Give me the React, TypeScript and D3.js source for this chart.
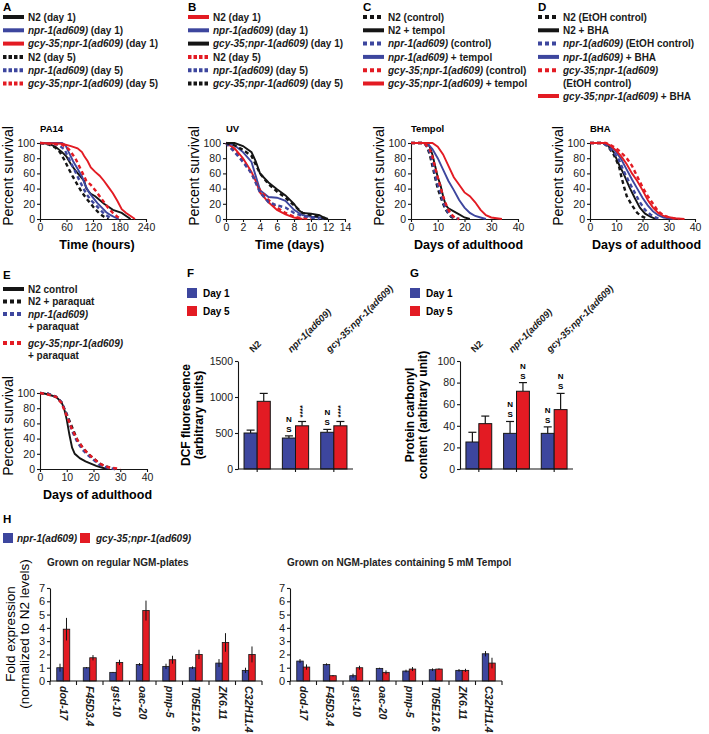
import React, { useRef, useEffect } from "react";
import * as d3 from "d3";

const W = 709;
const H = 734;
const FONT = "'Liberation Sans', Arial, Helvetica, sans-serif";
const BLACK = "#151515";
const BLUE = "#3d469e";
const RED = "#e31b23";

type Pt = [number, number];

// ---------- A: PA14 survival (hours, % alive) ----------
const pa14N2Day1: Pt[] = [[0, 100], [20, 99], [35, 95], [50, 88], [60, 82], [70, 72], [80, 64], [90, 57], [100, 50], [105, 40], [115, 33], [125, 30], [135, 25], [145, 20], [155, 16], [165, 12], [175, 10], [185, 8], [195, 4], [205, 0]];
const pa14Npr1Day1: Pt[] = [[0, 100], [50, 100], [58, 97], [65, 88], [75, 76], [85, 66], [95, 56], [102, 45], [110, 36], [120, 28], [130, 21], [140, 15], [150, 9], [160, 5], [170, 2], [178, 0]];
const pa14Gcy35Day1: Pt[] = [[0, 100], [50, 99], [70, 96], [85, 93], [95, 88], [100, 83], [108, 76], [115, 68], [125, 62], [135, 57], [145, 50], [155, 42], [165, 34], [175, 24], [185, 13], [195, 8], [205, 4], [215, 0]];
const pa14N2Day5: Pt[] = [[0, 100], [20, 98], [35, 94], [45, 88], [55, 78], [65, 66], [75, 55], [85, 45], [95, 35], [105, 27], [115, 20], [125, 13], [135, 7], [145, 3], [155, 0]];
const pa14Npr1Day5: Pt[] = [[0, 100], [40, 98], [55, 92], [65, 80], [75, 68], [85, 56], [95, 44], [105, 33], [115, 25], [125, 19], [135, 13], [145, 7], [155, 3], [163, 0]];
const pa14Gcy35Day5: Pt[] = [[0, 100], [50, 98], [65, 92], [80, 80], [95, 62], [105, 50], [115, 45], [125, 38], [135, 30], [145, 22], [155, 14], [165, 8], [175, 3], [185, 0]];

// ---------- B: UV survival (days) ----------
const uvN2Day1: Pt[] = [[0, 100], [1, 93], [2, 80], [3, 62], [3.5, 50], [4, 35], [5, 22], [6, 12], [7, 6], [8, 2], [9, 0]];
const uvNpr1Day1: Pt[] = [[0, 100], [1, 97], [2, 88], [3, 75], [4, 38], [5, 29], [6, 28], [7, 24], [8, 12], [9, 5], [10, 3], [11, 2], [11.5, 0]];
const uvGcy35Day1: Pt[] = [[0, 100], [1, 100], [2, 96], [3, 88], [3.5, 76], [4, 60], [5, 48], [6, 39], [7, 31], [8, 20], [8.5, 12], [9, 8], [10, 7], [11, 5], [11.5, 2], [12, 0]];
const uvN2Day5: Pt[] = [[0, 100], [1, 90], [2, 78], [3, 60], [4, 38], [5, 25], [6, 15], [7, 8], [8, 3], [9, 1], [10, 0]];
const uvNpr1Day5: Pt[] = [[0, 100], [1, 88], [2, 75], [3, 60], [4, 35], [5, 22], [6, 18], [7, 15], [8, 8], [9, 4], [10, 2], [11, 0]];
const uvGcy35Day5: Pt[] = [[0, 100], [1, 97], [2, 91], [3, 83], [4, 60], [5, 46], [6, 36], [7, 28], [8, 18], [9, 8], [10, 5], [11, 3], [12, 0]];

// ---------- C: tempol survival (days of adulthood) ----------
const tempolN2Ctrl: Pt[] = [[0, 100], [5, 100], [6, 95], [7, 85], [8, 70], [9, 55], [10, 40], [11, 30], [12, 20], [13, 12], [14, 7], [15, 3], [16, 1], [17, 0]];
const tempolN2Treat: Pt[] = [[0, 100], [6, 100], [7, 95], [8, 85], [9, 70], [10, 55], [11, 45], [12, 30], [13, 18], [14, 14], [16, 10], [18, 6], [20, 2], [22, 0]];
const tempolNpr1Ctrl: Pt[] = [[0, 100], [5, 100], [6, 95], [7, 88], [8, 75], [9, 58], [10, 45], [11, 35], [12, 22], [13, 14], [14, 8], [15, 4], [16, 2], [18, 0]];
const tempolNpr1Treat: Pt[] = [[0, 100], [6, 100], [8, 92], [10, 80], [12, 65], [14, 50], [16, 38], [18, 25], [20, 15], [22, 8], [24, 4], [26, 2], [28, 0]];
const tempolGcy35Ctrl: Pt[] = [[0, 100], [5, 100], [7, 92], [8, 82], [9, 68], [10, 55], [11, 42], [12, 30], [13, 20], [14, 12], [15, 6], [16, 3], [17, 1], [18, 0]];
const tempolGcy35Treat: Pt[] = [[0, 100], [8, 100], [10, 95], [12, 85], [14, 70], [16, 55], [18, 45], [20, 35], [22, 30], [24, 22], [26, 12], [28, 5], [30, 2], [34, 0]];

// ---------- D: BHA survival ----------
const bhaN2Ctrl: Pt[] = [[0, 100], [5, 100], [7, 95], [9, 85], [11, 70], [12, 55], [13, 42], [14, 30], [16, 18], [18, 8], [20, 3], [22, 0]];
const bhaN2Treat: Pt[] = [[0, 100], [5, 100], [7, 96], [9, 88], [11, 72], [13, 58], [15, 42], [17, 28], [19, 15], [21, 7], [23, 3], [25, 0]];
const bhaNpr1Ctrl: Pt[] = [[0, 100], [5, 100], [7, 95], [9, 88], [11, 78], [13, 62], [15, 48], [17, 35], [19, 22], [21, 12], [23, 6], [25, 2], [27, 0]];
const bhaNpr1Treat: Pt[] = [[0, 100], [5, 100], [8, 96], [10, 88], [12, 78], [14, 65], [16, 52], [18, 40], [20, 28], [22, 18], [24, 10], [26, 5], [28, 2], [32, 0]];
const bhaGcy35Ctrl: Pt[] = [[0, 100], [6, 100], [8, 97], [10, 93], [12, 87], [14, 80], [16, 70], [18, 56], [20, 42], [22, 30], [24, 20], [26, 10], [28, 5], [30, 2], [34, 0]];
const bhaGcy35Treat: Pt[] = [[0, 100], [6, 100], [8, 96], [10, 90], [12, 82], [14, 72], [16, 60], [18, 50], [20, 38], [22, 25], [24, 15], [26, 8], [28, 4], [32, 1], [36, 0]];

// ---------- E: paraquat survival ----------
const pqN2Ctrl: Pt[] = [[0, 100], [2, 99], [4, 97], [6, 95], [8, 88], [9, 80], [10, 65], [11, 45], [12, 28], [13, 20], [15, 14], [17, 10], [19, 7], [21, 4], [23, 2], [25, 0]];
const pqN2: Pt[] = [[0, 100], [3, 99], [6, 95], [8, 88], [10, 72], [12, 55], [14, 38], [16, 28], [18, 20], [20, 14], [22, 8], [24, 4], [26, 2], [28, 0]];
const pqNpr1: Pt[] = [[0, 100], [3, 99], [6, 95], [8, 88], [10, 72], [12, 50], [14, 35], [16, 25], [18, 18], [20, 12], [22, 6], [24, 3], [26, 1], [28, 0]];
const pqGcy35: Pt[] = [[0, 100], [3, 98], [6, 95], [8, 87], [10, 70], [12, 52], [14, 38], [16, 28], [18, 20], [20, 14], [22, 8], [24, 4], [26, 2], [28, 1], [30, 0]];

// ---------- F / G: bar charts ----------
const strainGroups = ["N2", "npr-1(ad609)", "gcy-35;npr-1(ad609)"];
const dcfDay1 = [500, 430, 510];
const dcfDay1Err = [40, 30, 40];
const dcfDay5 = [940, 600, 600];
const dcfDay5Err = [110, 60, 60];
const dcfDay1Sig = ["", "NS", "NS"];
const dcfDay5Sig = ["", "****", "****"];
const dcfTicks = [0, 500, 1000, 1500];

const carbDay1 = [25, 33, 33];
const carbDay1Err = [9, 11, 6];
const carbDay5 = [42, 72, 55];
const carbDay5Err = [7, 8, 15];
const carbDay1Sig = ["", "NS", "NS"];
const carbDay5Sig = ["", "NS", "NS"];
const carbTicks = [0, 20, 40, 60, 80, 100];

// ---------- H: qPCR fold expression ----------
const genes = ["dod-17", "F45D3.4", "gst-10", "oac-20", "pmp-5", "T05E12.6", "ZK6.11", "C32H11.4"];
const ngmNpr1 = [1.0, 1.0, 0.65, 1.25, 1.1, 1.0, 1.35, 0.8];
const ngmNpr1Err = [0.3, 0.05, 0.03, 0.1, 0.2, 0.1, 0.3, 0.2];
const ngmGcy35 = [3.9, 1.75, 1.4, 5.3, 1.6, 2.0, 2.9, 2.0];
const ngmGcy35Err = [0.85, 0.2, 0.2, 0.75, 0.3, 0.35, 0.7, 0.6];
const tempolNpr1 = [1.5, 1.25, 0.4, 0.95, 0.75, 0.85, 0.8, 2.05];
const tempolNpr1Err = [0.15, 0.08, 0.15, 0.05, 0.1, 0.1, 0.1, 0.2];
const tempolGcy35 = [1.05, 0.4, 1.0, 0.65, 0.9, 0.9, 0.8, 1.35];
const tempolGcy35Err = [0.2, 0.05, 0.15, 0.15, 0.15, 0.05, 0.12, 0.4];
const foldTicks = [0, 1, 2, 3, 4, 5, 6, 7];

const pctTicks = [0, 20, 40, 60, 80, 100];

// label pieces: [text, italic]
const N2 = ["N2", false];
const NPR = ["npr-1(ad609)", true];
const GCY = ["gcy-35;npr-1(ad609)", true];
const t = (s: string) => [s, false];

const survivalPanels = [
  {
    letter: "A", title: "PA14", xLabel: "Time (hours)", xMax: 240, xTicks: [0, 60, 120, 180, 240],
    box: { x0: 40, x1: 146, legendX: 3, rows: [17, 30.3, 43.6, 56.9, 70.2, 83.5], dash: "3.5,2" },
    series: [
      { label: [[N2, t(" (day 1)")]], color: BLACK, dashed: false, data: pa14N2Day1 },
      { label: [[NPR, t(" (day 1)")]], color: BLUE, dashed: false, data: pa14Npr1Day1 },
      { label: [[GCY, t(" (day 1)")]], color: RED, dashed: false, data: pa14Gcy35Day1 },
      { label: [[N2, t(" (day 5)")]], color: BLACK, dashed: true, data: pa14N2Day5 },
      { label: [[NPR, t(" (day 5)")]], color: BLUE, dashed: true, data: pa14Npr1Day5 },
      { label: [[GCY, t(" (day 5)")]], color: RED, dashed: true, data: pa14Gcy35Day5 },
    ],
  },
  {
    letter: "B", title: "UV", xLabel: "Time (days)", xMax: 14, xTicks: [0, 2, 4, 6, 8, 10, 12, 14],
    box: { x0: 226, x1: 345, legendX: 188, rows: [17, 30.3, 43.6, 56.9, 70.2, 83.5], dash: "3.5,2" },
    series: [
      { label: [[N2, t(" (day 1)")]], color: RED, dashed: false, data: uvN2Day1 },
      { label: [[NPR, t(" (day 1)")]], color: BLUE, dashed: false, data: uvNpr1Day1 },
      { label: [[GCY, t(" (day 1)")]], color: BLACK, dashed: false, data: uvGcy35Day1 },
      { label: [[N2, t(" (day 5)")]], color: RED, dashed: true, data: uvN2Day5 },
      { label: [[NPR, t(" (day 5)")]], color: BLUE, dashed: true, data: uvNpr1Day5 },
      { label: [[GCY, t(" (day 5)")]], color: BLACK, dashed: true, data: uvGcy35Day5 },
    ],
  },
  {
    letter: "C", title: "Tempol", xLabel: "Days of adulthood", xMax: 40, xTicks: [0, 10, 20, 30, 40],
    box: { x0: 411, x1: 518, legendX: 363, rows: [17, 30.3, 43.6, 56.9, 70.2, 83.5], dash: "4,3" },
    series: [
      { label: [[N2, t(" (control)")]], color: BLACK, dashed: true, data: tempolN2Ctrl },
      { label: [[N2, t(" + tempol")]], color: BLACK, dashed: false, data: tempolN2Treat },
      { label: [[NPR, t(" (control)")]], color: BLUE, dashed: true, data: tempolNpr1Ctrl },
      { label: [[NPR, t(" + tempol")]], color: BLUE, dashed: false, data: tempolNpr1Treat },
      { label: [[GCY, t(" (control)")]], color: RED, dashed: true, data: tempolGcy35Ctrl },
      { label: [[GCY, t(" + tempol")]], color: RED, dashed: false, data: tempolGcy35Treat },
    ],
  },
  {
    letter: "D", title: "BHA", xLabel: "Days of adulthood", xMax: 40, xTicks: [0, 10, 20, 30, 40],
    box: { x0: 590, x1: 695, legendX: 538, rows: [17, 30.3, 43.6, 56.9, 70.2, 96], dash: "4,3" },
    series: [
      { label: [[N2, t(" (EtOH control)")]], color: BLACK, dashed: true, data: bhaN2Ctrl },
      { label: [[N2, t(" + BHA")]], color: BLACK, dashed: false, data: bhaN2Treat },
      { label: [[NPR, t(" (EtOH control)")]], color: BLUE, dashed: true, data: bhaNpr1Ctrl },
      { label: [[NPR, t(" + BHA")]], color: BLUE, dashed: false, data: bhaNpr1Treat },
      { label: [[GCY], [t("(EtOH control)")]], color: RED, dashed: true, data: bhaGcy35Ctrl },
      { label: [[GCY, t("  + BHA")]], color: RED, dashed: false, data: bhaGcy35Treat },
    ],
  },
];

const paraquatPanel = {
  letter: "E", title: "", xLabel: "Days of adulthood", xMax: 40, xTicks: [0, 10, 20, 30, 40],
  box: { x0: 40, x1: 147, legendX: 3, rows: [289, 301.5, 314, 343], dash: "4,3" },
  series: [
    { label: [[t("N2 control")]], color: BLACK, dashed: false, data: pqN2Ctrl },
    { label: [[t("N2 + paraquat")]], color: BLACK, dashed: true, data: pqN2 },
    { label: [[NPR], [t("+ paraquat")]], color: BLUE, dashed: true, data: pqNpr1 },
    { label: [[GCY], [t("+ paraquat")]], color: RED, dashed: true, data: pqGcy35 },
  ],
};

const intFmt = d3.format("d");

function styleAxis(g: any, size = 10.5) {
  g.attr("font-family", FONT).attr("font-size", size);
  g.select(".domain").attr("stroke", BLACK).attr("stroke-width", 1.1);
  g.selectAll(".tick line").attr("stroke", BLACK).attr("stroke-width", 1.1);
  g.selectAll(".tick text").attr("fill", "#1a1a1a");
}

function addLabel(sel: any, x: number, y: number, pieces: any[], opts: any = {}) {
  const txt = sel.append("text")
    .attr("x", x).attr("y", y)
    .attr("font-size", opts.size || 10)
    .attr("font-weight", opts.weight || "bold")
    .attr("fill", "#1a1a1a");
  if (opts.transform) txt.attr("transform", opts.transform);
  pieces.forEach((p: any) => {
    txt.append("tspan").attr("font-style", p[1] ? "italic" : "normal").text(p[0]);
  });
  return txt;
}

function drawSurvival(svg: any, panel: any, yTop: number, yBottom: number, letterY: number) {
  const box = panel.box;
  const x = d3.scaleLinear().domain([0, panel.xMax]).range([box.x0, box.x1]);
  const y = d3.scaleLinear().domain([0, 100]).range([yBottom, yTop]);

  svg.append("text").attr("x", box.legendX).attr("y", letterY)
    .attr("font-size", 11.5).attr("font-weight", "bold").text(panel.letter);

  // legend
  panel.series.forEach((s: any, i: number) => {
    const ly = box.rows[i];
    svg.append("line")
      .attr("x1", box.legendX).attr("x2", box.legendX + 21)
      .attr("y1", ly).attr("y2", ly)
      .attr("stroke", s.color).attr("stroke-width", 4)
      .attr("stroke-dasharray", s.dashed ? box.dash : null);
    s.label.forEach((line: any, li: number) => {
      addLabel(svg, box.legendX + 25, ly + 3.6 + li * 12.8, line);
    });
  });

  // axes
  const yAxis = svg.append("g").attr("transform", `translate(${box.x0},0)`)
    .call(d3.axisLeft(y).tickValues(pctTicks).tickFormat(intFmt).tickSize(3).tickSizeOuter(0).tickPadding(2));
  styleAxis(yAxis);
  const xAxis = svg.append("g").attr("transform", `translate(0,${yBottom})`)
    .call(d3.axisBottom(x).tickValues(panel.xTicks).tickFormat(intFmt).tickSize(3).tickSizeOuter(0).tickPadding(2));
  styleAxis(xAxis);

  // curves
  const line = d3.line<Pt>().x(d => x(d[0])).y(d => y(d[1]));
  panel.series.forEach((s: any) => {
    svg.append("path").datum(s.data)
      .attr("d", line)
      .attr("fill", "none")
      .attr("stroke", s.color)
      .attr("stroke-width", s.dashed ? 2.4 : 1.9)
      .attr("stroke-dasharray", s.dashed ? "4,3" : null);
  });

  if (panel.title) {
    svg.append("text").attr("x", box.x0).attr("y", yTop - 11)
      .attr("font-size", 9.5).attr("font-weight", "bold").text(panel.title);
  }
  svg.append("text")
    .attr("x", (box.x0 + box.x1) / 2 + 4).attr("y", yBottom + 30)
    .attr("text-anchor", "middle").attr("font-size", 12.5).attr("font-weight", "bold")
    .text(panel.xLabel);
  svg.append("text")
    .attr("transform", `translate(${box.x0 - 27},${(yTop + yBottom) / 2 - 5}) rotate(-90)`)
    .attr("text-anchor", "middle").attr("font-size", 14)
    .text("Percent survival");
}

function drawBars(svg: any, cfg: any) {
  const x = d3.scaleBand().domain(strainGroups).range([cfg.x0, cfg.x1]);
  const sub = d3.scaleBand().domain(["d1", "d5"]).range([0, x.bandwidth()]).paddingOuter(0.46);
  const y = d3.scaleLinear().domain([0, cfg.max]).range([469, 361]);

  svg.append("text").attr("x", cfg.legendX).attr("y", 277)
    .attr("font-size", 11.5).attr("font-weight", "bold").text(cfg.letter);
  [["Day 1", BLUE, 288], ["Day 5", RED, 306]].forEach(([lab, col, ly]: any) => {
    svg.append("rect").attr("x", cfg.legendX).attr("y", ly).attr("width", 10).attr("height", 10).attr("fill", col);
    svg.append("text").attr("x", cfg.legendX + 16).attr("y", ly + 8.5)
      .attr("font-size", 10).attr("font-weight", "bold").text(lab);
  });

  const yAxis = svg.append("g").attr("transform", `translate(${cfg.x0},0)`)
    .call(d3.axisLeft(y).tickValues(cfg.ticks).tickFormat(intFmt).tickSize(3).tickSizeOuter(0).tickPadding(2));
  styleAxis(yAxis);

  const sets = [
    { key: "d1", v: cfg.day1, e: cfg.day1Err, sig: cfg.day1Sig, color: BLUE },
    { key: "d5", v: cfg.day5, e: cfg.day5Err, sig: cfg.day5Sig, color: RED },
  ];
  sets.forEach(s => {
    strainGroups.forEach((g, i) => {
      const bx = (x(g) as number) + (sub(s.key) as number);
      const bw = sub.bandwidth();
      const cx = bx + bw / 2;
      const top = y(s.v[i] + s.e[i]);
      svg.append("line").attr("x1", cx).attr("x2", cx).attr("y1", y(s.v[i])).attr("y2", top)
        .attr("stroke", BLACK).attr("stroke-width", 1.2);
      svg.append("line").attr("x1", cx - 4).attr("x2", cx + 4).attr("y1", top).attr("y2", top)
        .attr("stroke", BLACK).attr("stroke-width", 1.2);
      svg.append("rect").attr("x", bx).attr("y", y(s.v[i]))
        .attr("width", bw).attr("height", y(0) - y(s.v[i]))
        .attr("fill", s.color).attr("stroke", BLACK).attr("stroke-width", 1);
      const sig = s.sig[i];
      if (sig === "NS") {
        svg.append("text").attr("x", cx).attr("y", top - 14).attr("text-anchor", "middle")
          .attr("font-size", 8).attr("font-weight", "bold").text("N");
        svg.append("text").attr("x", cx).attr("y", top - 4).attr("text-anchor", "middle")
          .attr("font-size", 8).attr("font-weight", "bold").text("S");
      } else if (sig) {
        svg.append("text").attr("transform", `translate(${cx + 3},${top - 4}) rotate(-90)`)
          .attr("font-size", 8).attr("font-weight", "bold").text(sig);
      }
    });
  });

  const xAxis = svg.append("g").attr("transform", "translate(0,469)")
    .call(d3.axisBottom(x).tickSize(3).tickSizeOuter(0).tickFormat(() => ""));
  styleAxis(xAxis);
  xAxis.select(".domain").attr("d", `M${cfg.x0},0H${cfg.x1}`);

  strainGroups.forEach((g, i) => {
    const cx = (x(g) as number) + x.bandwidth() / 2;
    addLabel(svg, 0, 0, [[g, i > 0]], {
      size: 9.5, weight: "bold",
      transform: `translate(${cx - 4},${353}) rotate(-45)`,
    });
  });

  svg.append("g").attr("transform", `translate(${cfg.titleX},415) rotate(-90)`)
    .call((g: any) => {
      cfg.yTitle.forEach((ln: string, i: number) => {
        g.append("text").attr("x", 0).attr("y", i * 13).attr("text-anchor", "middle")
          .attr("font-size", 12).attr("font-weight", "bold").text(ln);
      });
    });
}

function drawExpression(svg: any, cfg: any) {
  const x = d3.scaleBand().domain(genes).range([cfg.x0, cfg.x0 + 212]);
  const sub = d3.scaleBand().domain(["npr", "gcy"]).range([0, x.bandwidth()]).paddingOuter(1.04);
  const y = d3.scaleLinear().domain([0, 7]).range([681, 588]);

  svg.append("text").attr("x", cfg.x0 - 3).attr("y", 566)
    .attr("font-size", 10).attr("font-weight", "bold").attr("fill", "#222").text(cfg.title);

  const yAxis = svg.append("g").attr("transform", `translate(${cfg.x0},0)`)
    .call(d3.axisLeft(y).tickValues(foldTicks).tickFormat(intFmt).tickSize(3).tickSizeOuter(0).tickPadding(2));
  styleAxis(yAxis, 11);

  const sets = [
    { key: "npr", v: cfg.npr, e: cfg.nprErr, color: BLUE },
    { key: "gcy", v: cfg.gcy, e: cfg.gcyErr, color: RED },
  ];
  sets.forEach(s => {
    genes.forEach((g, i) => {
      const bx = (x(g) as number) + (sub(s.key) as number);
      const bw = sub.bandwidth();
      svg.append("rect").attr("x", bx).attr("y", y(s.v[i]))
        .attr("width", bw).attr("height", y(0) - y(s.v[i]))
        .attr("fill", s.color).attr("stroke", BLACK).attr("stroke-width", 0.8);
      svg.append("line").attr("x1", bx + bw / 2).attr("x2", bx + bw / 2)
        .attr("y1", y(Math.max(0, s.v[i] - s.e[i]))).attr("y2", y(s.v[i] + s.e[i]))
        .attr("stroke", BLACK).attr("stroke-width", 1);
    });
  });

  const xAxis = svg.append("g").attr("transform", "translate(0,681)");
  xAxis.append("line").attr("x1", cfg.x0).attr("x2", cfg.x0 + 212).attr("stroke", BLACK).attr("stroke-width", 1.1);
  [...genes.map(g => x(g) as number), cfg.x0 + 212].forEach(tx => {
    xAxis.append("line").attr("x1", tx).attr("x2", tx).attr("y1", 0).attr("y2", 4)
      .attr("stroke", BLACK).attr("stroke-width", 1.1);
  });

  genes.forEach(g => {
    const cx = (x(g) as number) + x.bandwidth() / 2;
    svg.append("text")
      .attr("transform", `translate(${cx},${686}) rotate(90)`)
      .attr("dy", "0.35em")
      .attr("font-size", 10.5).attr("font-style", "italic").attr("font-weight", "bold")
      .attr("fill", "#1a1a1a").text(g);
  });
}

const App = () => {
  const ref = useRef<SVGSVGElement>(null);

  useEffect(() => {
    document.body.style.margin = "0";
    const svg = d3.select(ref.current);
    svg.selectAll("*").remove();
    svg.append("rect").attr("width", W).attr("height", H).attr("fill", "white");

    survivalPanels.forEach(p => drawSurvival(svg, p, 143, 219, 11));
    drawSurvival(svg, paraquatPanel, 393, 469, 279);

    drawBars(svg, {
      letter: "F", legendX: 187, x0: 238, x1: 353, max: 1500, ticks: dcfTicks,
      day1: dcfDay1, day1Err: dcfDay1Err, day5: dcfDay5, day5Err: dcfDay5Err,
      day1Sig: dcfDay1Sig, day5Sig: dcfDay5Sig,
      titleX: 190, yTitle: ["DCF fluorescence", "(arbitrary units)"],
    });
    drawBars(svg, {
      letter: "G", legendX: 410, x0: 460, x1: 573, max: 100, ticks: carbTicks,
      day1: carbDay1, day1Err: carbDay1Err, day5: carbDay5, day5Err: carbDay5Err,
      day1Sig: carbDay1Sig, day5Sig: carbDay5Sig,
      titleX: 414, yTitle: ["Protein carbonyl", "content (arbitrary unit)"],
    });

    // H
    svg.append("text").attr("x", 3).attr("y", 523)
      .attr("font-size", 11.5).attr("font-weight", "bold").text("H");
    svg.append("rect").attr("x", 3).attr("y", 533).attr("width", 10).attr("height", 10).attr("fill", BLUE);
    addLabel(svg, 17, 541.5, [NPR]);
    svg.append("rect").attr("x", 80).attr("y", 533).attr("width", 10).attr("height", 10).attr("fill", RED);
    addLabel(svg, 96, 541.5, [GCY]);

    drawExpression(svg, {
      x0: 50, title: "Grown on regular NGM-plates",
      npr: ngmNpr1, nprErr: ngmNpr1Err, gcy: ngmGcy35, gcyErr: ngmGcy35Err,
    });
    drawExpression(svg, {
      x0: 290, title: "Grown on NGM-plates containing 5 mM Tempol",
      npr: tempolNpr1, nprErr: tempolNpr1Err, gcy: tempolGcy35, gcyErr: tempolGcy35Err,
    });

    svg.append("g").attr("transform", "translate(15,634) rotate(-90)")
      .call((g: any) => {
        g.append("text").attr("text-anchor", "middle").attr("font-size", 13.5).text("Fold expression");
        g.append("text").attr("y", 13.5).attr("text-anchor", "middle").attr("font-size", 13.5)
          .text("(normalized to N2 levels)");
      });
  }, []);

  return (
    <div style={{ position: "absolute", left: 0, top: 0 }}>
      <svg ref={ref} width={W} height={H} style={{ display: "block", fontFamily: FONT }}></svg>
    </div>
  );
};

export default App;
